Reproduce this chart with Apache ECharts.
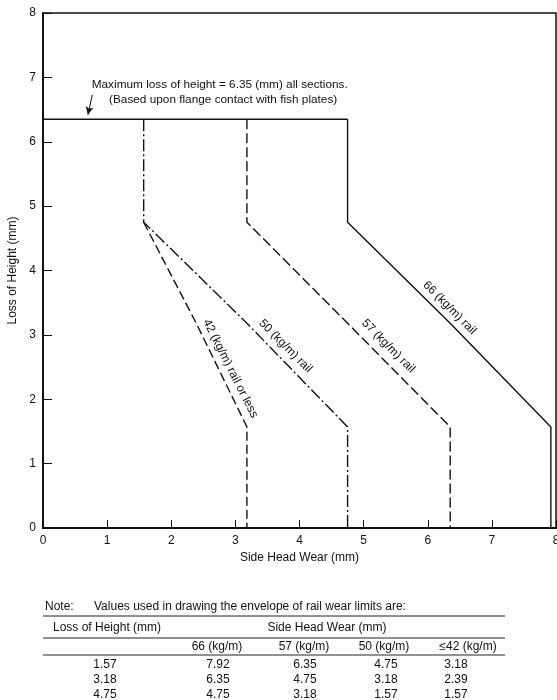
<!DOCTYPE html>
<html><head><meta charset="utf-8">
<script src="https://cdn.jsdelivr.net/npm/echarts@6/dist/echarts.min.js"></script>
<style>html,body{margin:0;padding:0;background:#fff;overflow:hidden}#c{width:557px;height:700px;}</style>
</head><body><div id="c"></div>
<script>
// ---- data ----
const heights = [1.57, 3.18, 4.75];          // loss of height (mm)
const maxLoss = 6.35;                         // maximum loss of height (mm)
const wear66 = [7.92, 6.35, 4.75];
const wear57 = [6.35, 4.75, 3.18];
const wear50 = [4.75, 3.18, 1.57];
const wear42 = [3.18, 2.39, 1.57];
const railNames = ['66 (kg/m)', '57 (kg/m)', '50 (kg/m)', '≤42 (kg/m)'];
const lineLabels = ['66 (kg/m) rail', '57 (kg/m) rail', '50 (kg/m) rail', '42 (kg/m) rail or less'];
const xTitle = 'Side Head Wear (mm)';
const yTitle = 'Loss of Height (mm)';
const note1 = 'Maximum loss of height = 6.35 (mm) all sections.';
const note2 = '(Based upon flange contact with fish plates)';
const tableNote = 'Values used in drawing the envelope of rail wear limits are:';

// ---- build envelopes ----
function envelope(wear, withTop) {
  const pts = [];
  if (withTop) pts.push([wear[2], maxLoss]);
  for (let i = heights.length - 1; i >= 0; i--) pts.push([wear[i], heights[i]]);
  pts.push([wear[0], 0]);
  return pts;
}
const FONT = '"Liberation Sans", Arial, Helvetica, sans-serif';
const INK = '#111';
const chart = echarts.init(document.getElementById('c'), null, {renderer: 'canvas'});

const baseLine = {color: INK, width: 1.4};
chart.setOption({
  animation: false,
  backgroundColor: '#fff',
  textStyle: {fontFamily: FONT, color: INK},
  grid: {left: 43, right: 1, top: 13, bottom: 172, show: true, borderColor: INK, borderWidth: 1.5,
    containLabel: false, outerBoundsMode: 'none'},
  xAxis: {
    type: 'value', min: 0, max: 8, interval: 1,
    name: xTitle, nameLocation: 'middle', nameGap: 24,
    nameTextStyle: {fontSize: 12, color: INK, fontFamily: FONT},
    axisLine: {show: true, lineStyle: {color: INK, width: 2}},
    axisTick: {show: true, inside: true, length: 8, lineStyle: {color: INK, width: 1}},
    axisLabel: {fontSize: 12, color: INK, margin: 7, fontFamily: FONT},
    splitLine: {show: false}
  },
  yAxis: {
    type: 'value', min: 0, max: 8, interval: 1,
    name: yTitle, nameLocation: 'middle', nameGap: 16, nameRotate: 90,
    nameTextStyle: {fontSize: 12, color: INK, fontFamily: FONT},
    axisLine: {show: true, lineStyle: {color: INK, width: 2}},
    axisTick: {show: true, inside: true, length: 9, lineStyle: {color: INK, width: 1}},
    axisLabel: {fontSize: 12, color: INK, margin: 7, fontFamily: FONT},
    splitLine: {show: false}
  },
  series: [
    {
      name: 'max', type: 'line', symbol: 'none', silent: true,
      data: [[0, maxLoss], [wear66[2], maxLoss]],
      lineStyle: Object.assign({}, baseLine, {type: 'solid', width: 1.6}),
      markLine: {
        silent: true, symbol: ['none', 'arrow'], symbolSize: [6, 8], animation: false,
        label: {show: false},
        lineStyle: {color: INK, width: 1, type: 'solid'},
        data: [[{coord: [0.77, 6.73]}, {coord: [0.70, 6.42]}]]
      }
    },
    {name: '66', type: 'line', symbol: 'none', silent: true, data: envelope(wear66, true),
      lineStyle: Object.assign({}, baseLine, {type: 'solid'})},
    {name: '57', type: 'line', symbol: 'none', silent: true, data: envelope(wear57, true),
      lineStyle: Object.assign({}, baseLine, {type: [10, 4]})},
    {name: '50', type: 'line', symbol: 'none', silent: true, data: envelope(wear50, true),
      lineStyle: Object.assign({}, baseLine, {type: [12, 3, 2, 3]})},
    {name: '42', type: 'line', symbol: 'none', silent: true, data: envelope(wear42, false),
      lineStyle: Object.assign({}, baseLine, {type: [9, 4]})}
  ]
});

// ---- annotations placed from data coordinates ----
function px(p) { return chart.convertToPixel({gridIndex: 0}, p); }
const gfx = [];
// each label sits along the diagonal segment of its envelope (fraction t), offset to its upper-right side
const diagSegs = [
  {a: [wear66[2], heights[2]], b: [wear66[0], heights[0]], t: 0.46, off: 12},
  {a: [wear57[2], heights[2]], b: [wear57[0], heights[0]], t: 0.65, off: 13},
  {a: [wear50[2], heights[2]], b: [wear50[0], heights[0]], t: 0.65, off: 13},
  {a: [wear42[2], heights[2]], b: [wear42[0], heights[0]], t: 0.74, off: 11.5}
];
diagSegs.forEach((s, i) => {
  const a = px(s.a), b = px(s.b);
  const dx = b[0] - a[0], dy = b[1] - a[1];
  const len = Math.hypot(dx, dy);
  const nx = dy / len, ny = -dx / len;
  gfx.push({
    type: 'text', silent: true,
    x: a[0] + s.t * dx + nx * s.off,
    y: a[1] + s.t * dy + ny * s.off,
    rotation: -Math.atan2(dy, dx),
    style: {text: lineLabels[i], fontSize: 12, fontFamily: FONT, fill: INK, align: 'center', verticalAlign: 'middle'}
  });
});
const n1 = px([0.76, 6.89]), n2 = px([1.03, 6.65]);
gfx.push({type: 'text', silent: true, x: n1[0], y: n1[1],
  style: {text: note1, fontSize: 11.8, fontFamily: FONT, fill: INK, align: 'left', verticalAlign: 'middle'}});
gfx.push({type: 'text', silent: true, x: n2[0], y: n2[1],
  style: {text: note2, fontSize: 11.8, fontFamily: FONT, fill: INK, align: 'left', verticalAlign: 'middle'}});

// ---- table below chart ----
const tFont = {fontSize: 12, fontFamily: FONT, fill: INK, verticalAlign: 'middle'};
function txt(t, x, y, align) {
  gfx.push({type: 'text', silent: true, x: x, y: y, style: Object.assign({text: t, align: align || 'center'}, tFont)});
}
function hline(y) {
  gfx.push({type: 'line', silent: true, shape: {x1: 43, y1: y, x2: 505, y2: y}, style: {stroke: '#222', lineWidth: 1}});
}
txt('Note:', 45, 607, 'left');
txt(tableNote, 94, 607, 'left');
hline(616);
txt(yTitle, 53, 628, 'left');
txt(xTitle, 327, 628, 'center');
hline(638);
const headX = [217, 304, 384, 468];
railNames.forEach((r, i) => txt(r, headX[i], 647));
hline(655);
const rowY = [665, 680, 695];
const colX = [105, 218, 305, 386, 456];
heights.forEach((h, i) => {
  const row = [h, wear66[i], wear57[i], wear50[i], wear42[i]];
  row.forEach((v, j) => txt(v.toFixed(2), colX[j], rowY[i]));
});
chart.setOption({graphic: gfx});
</script>
</body></html>
